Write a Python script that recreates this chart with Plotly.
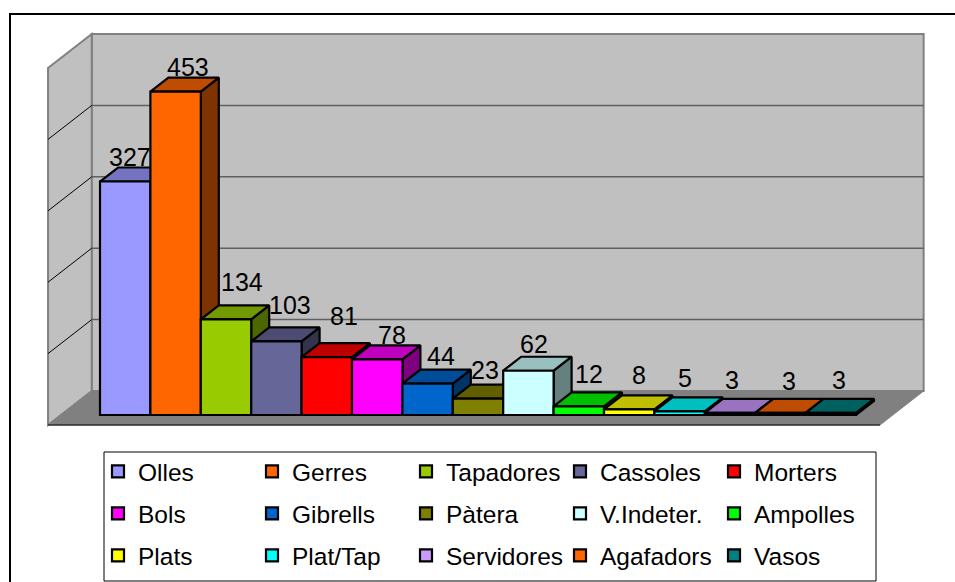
import plotly.graph_objects as go

categories = ["Olles", "Gerres", "Tapadores", "Cassoles", "Morters",
              "Bols", "Gibrells", "Pàtera", "V.Indeter.", "Ampolles",
              "Plats", "Plat/Tap", "Servidores", "Agafadors", "Vasos"]
values = [327, 453, 134, 103, 81, 78, 44, 23, 62, 12, 8, 5, 3, 3, 3]
front_colors = ["#9999FF", "#FF6600", "#99CC00", "#666699", "#FF0000",
                "#FF00FF", "#0066CC", "#808000", "#CCFFFF", "#00FF00",
                "#FFFF00", "#00FFFF", "#CC99FF", "#FF6600", "#008080"]
top_colors = ["#7373BF", "#BF4C00", "#739900", "#4C4C73", "#BF0000",
              "#BF00BF", "#004C99", "#606000", "#99BFBF", "#00BF00",
              "#BFBF00", "#00BFBF", "#9973BF", "#BF4C00", "#006060"]
side_colors = ["#4C4C7F", "#7F3300", "#4C6600", "#33334C", "#7F0000",
               "#7F007F", "#003366", "#404000", "#667F7F", "#007F00",
               "#7F7F00", "#007F7F", "#664C7F", "#7F3300", "#004040"]
value_ticks = [0, 100, 200, 300, 400, 500]

# label nudges in pixels, relative to each bar's top centre
label_dx = [5, 12, 16, 14, 17, 15, 13, 7, 6, 10, 10, 5, 2, 9, 8]
label_dy = [25, 25, 37, 36, 41, 24, 28, 29, 27, 32, 34, 33, 33, 32, 33]

W, H = 955, 582
PX_X, PX_Y = 50.4, 0.714          # pixels per category, pixels per value
X0_PX, Y0_PX = 100, 415           # where category 0 / value 0 sit
DX, DY = 18 / PX_X, 14 / PX_Y     # one bar depth, in axis units
x_range = [-X0_PX / PX_X, (W - X0_PX) / PX_X]
y_range = [-(H - Y0_PX) / PX_Y, Y0_PX / PX_Y]
FLOOR_L, FLOOR_R = -0.776, 15.73
D_FRONT, D_BACK = -0.714, 1.714
FONT = "Liberation Sans"


def proj(cat, val, depth):
    return cat + depth * DX, val + depth * DY


def path(points):
    return "M" + "L".join(f"{x:.4f},{y:.4f}" for x, y in points) + "Z"


shapes = []


def wall(points, fill, line, width):
    shapes.append(dict(type="path", path=path(points), xref="x", yref="y", layer="below",
                       fillcolor=fill, line=dict(color=line, width=width)))


def seg(a, b, color, width):
    shapes.append(dict(type="line", xref="x", yref="y", layer="below",
                       x0=a[0], y0=a[1], x1=b[0], y1=b[1], line=dict(color=color, width=width)))


top_val = value_ticks[-1]
wall([proj(FLOOR_L, 0, D_FRONT), proj(FLOOR_L, 0, D_BACK),
      proj(FLOOR_R, 0, D_BACK), proj(FLOOR_R, 0, D_FRONT)], "#808080", "#808080", 1)
wall([proj(FLOOR_L, 0, D_BACK), proj(FLOOR_L, top_val, D_BACK),
      proj(FLOOR_R, top_val, D_BACK), proj(FLOOR_R, 0, D_BACK)], "#C0C0C0", "#808080", 2)
wall([proj(FLOOR_L, 0, D_FRONT), proj(FLOOR_L, top_val, D_FRONT),
      proj(FLOOR_L, top_val, D_BACK), proj(FLOOR_L, 0, D_BACK)], "#C0C0C0", "#808080", 2)
for v in value_ticks[1:-1]:
    seg(proj(FLOOR_L, v, D_BACK), proj(FLOOR_R, v, D_BACK), "#606060", 1.5)
    seg(proj(FLOOR_L, v, D_FRONT), proj(FLOOR_L, v, D_BACK), "#000000", 1)
seg(proj(FLOOR_L, 0, D_FRONT), proj(FLOOR_R, 0, D_FRONT), "#000000", 1)

fig = go.Figure()

# side and top faces on the lower axes, left to right
for i, v in enumerate(values):
    side = [proj(i + 1, 0, 0), proj(i + 1, v, 0), proj(i + 1, v, 1), proj(i + 1, 0, 1), proj(i + 1, 0, 0)]
    top = [proj(i, v, 0), proj(i, v, 1), proj(i + 1, v, 1), proj(i + 1, v, 0), proj(i, v, 0)]
    for pts, col in ((side, side_colors[i]), (top, top_colors[i])):
        fig.add_trace(go.Scatter(x=[p[0] for p in pts], y=[p[1] for p in pts], mode="lines",
                                 fill="toself", fillcolor=col, line=dict(color="#000000", width=2.2),
                                 showlegend=False, hoverinfo="skip"))

# front faces on the upper axes, one legend row per five bars
for i, (name, v) in enumerate(zip(categories, values)):
    row = i // 5
    fig.add_trace(go.Bar(x=[i + 0.5], y=[v], width=1, name=name, xaxis="x2", yaxis="y2",
                         marker=dict(color=front_colors[i], line=dict(color="#000000", width=2.2)),
                         legend="legend" if row == 0 else f"legend{row + 1}"))

annotations = [dict(x=i + 0.5, y=v, xref="x2", yref="y2", text=str(v), showarrow=False,
                    xshift=label_dx[i], yshift=label_dy[i],
                    font=dict(family=FONT, size=25, color="#000000"))
               for i, v in enumerate(values)]

# outer frame and legend box, in page pixels translated to paper fractions
shapes.append(dict(type="rect", xref="paper", yref="paper", layer="below",
                   x0=10 / W, x1=1.02, y0=-0.02, y1=1 - 14 / H,
                   fillcolor="rgba(0,0,0,0)", line=dict(color="#000000", width=2)))
shapes.append(dict(type="rect", xref="paper", yref="paper", layer="above",
                   x0=104 / W, x1=876 / W, y0=1 - 581 / H, y1=1 - 452 / H,
                   fillcolor="rgba(0,0,0,0)", line=dict(color="#000000", width=1)))

common_legend = dict(orientation="h", xanchor="left", yanchor="middle", x=98 / W,
                     bgcolor="rgba(0,0,0,0)", borderwidth=0,
                     font=dict(family=FONT, size=24.5, color="#000000"),
                     itemwidth=30, entrywidth=109, entrywidthmode="pixels",
                     itemclick=False, itemdoubleclick=False, traceorder="normal")

hidden = dict(visible=False, fixedrange=True)
fig.update_layout(
    width=W, height=H, margin=dict(l=0, r=0, t=0, b=0),
    paper_bgcolor="#FFFFFF", plot_bgcolor="rgba(0,0,0,0)", barmode="overlay",
    xaxis=dict(range=x_range, domain=[0, 1], **hidden),
    yaxis=dict(range=y_range, domain=[0, 1], **hidden),
    xaxis2=dict(range=x_range, domain=[0, 1], overlaying="x", **hidden),
    yaxis2=dict(range=y_range, domain=[0, 1], overlaying="y", **hidden),
    shapes=shapes, annotations=annotations,
    legend={**common_legend, "y": 1 - 471.5 / H},
    legend2={**common_legend, "y": 1 - 513.5 / H},
    legend3={**common_legend, "y": 1 - 555.5 / H},
)
fig.write_html("out.html", config={"displayModeBar": False},
               post_script="document.body.style.margin='0';document.documentElement.style.overflow='hidden';")
